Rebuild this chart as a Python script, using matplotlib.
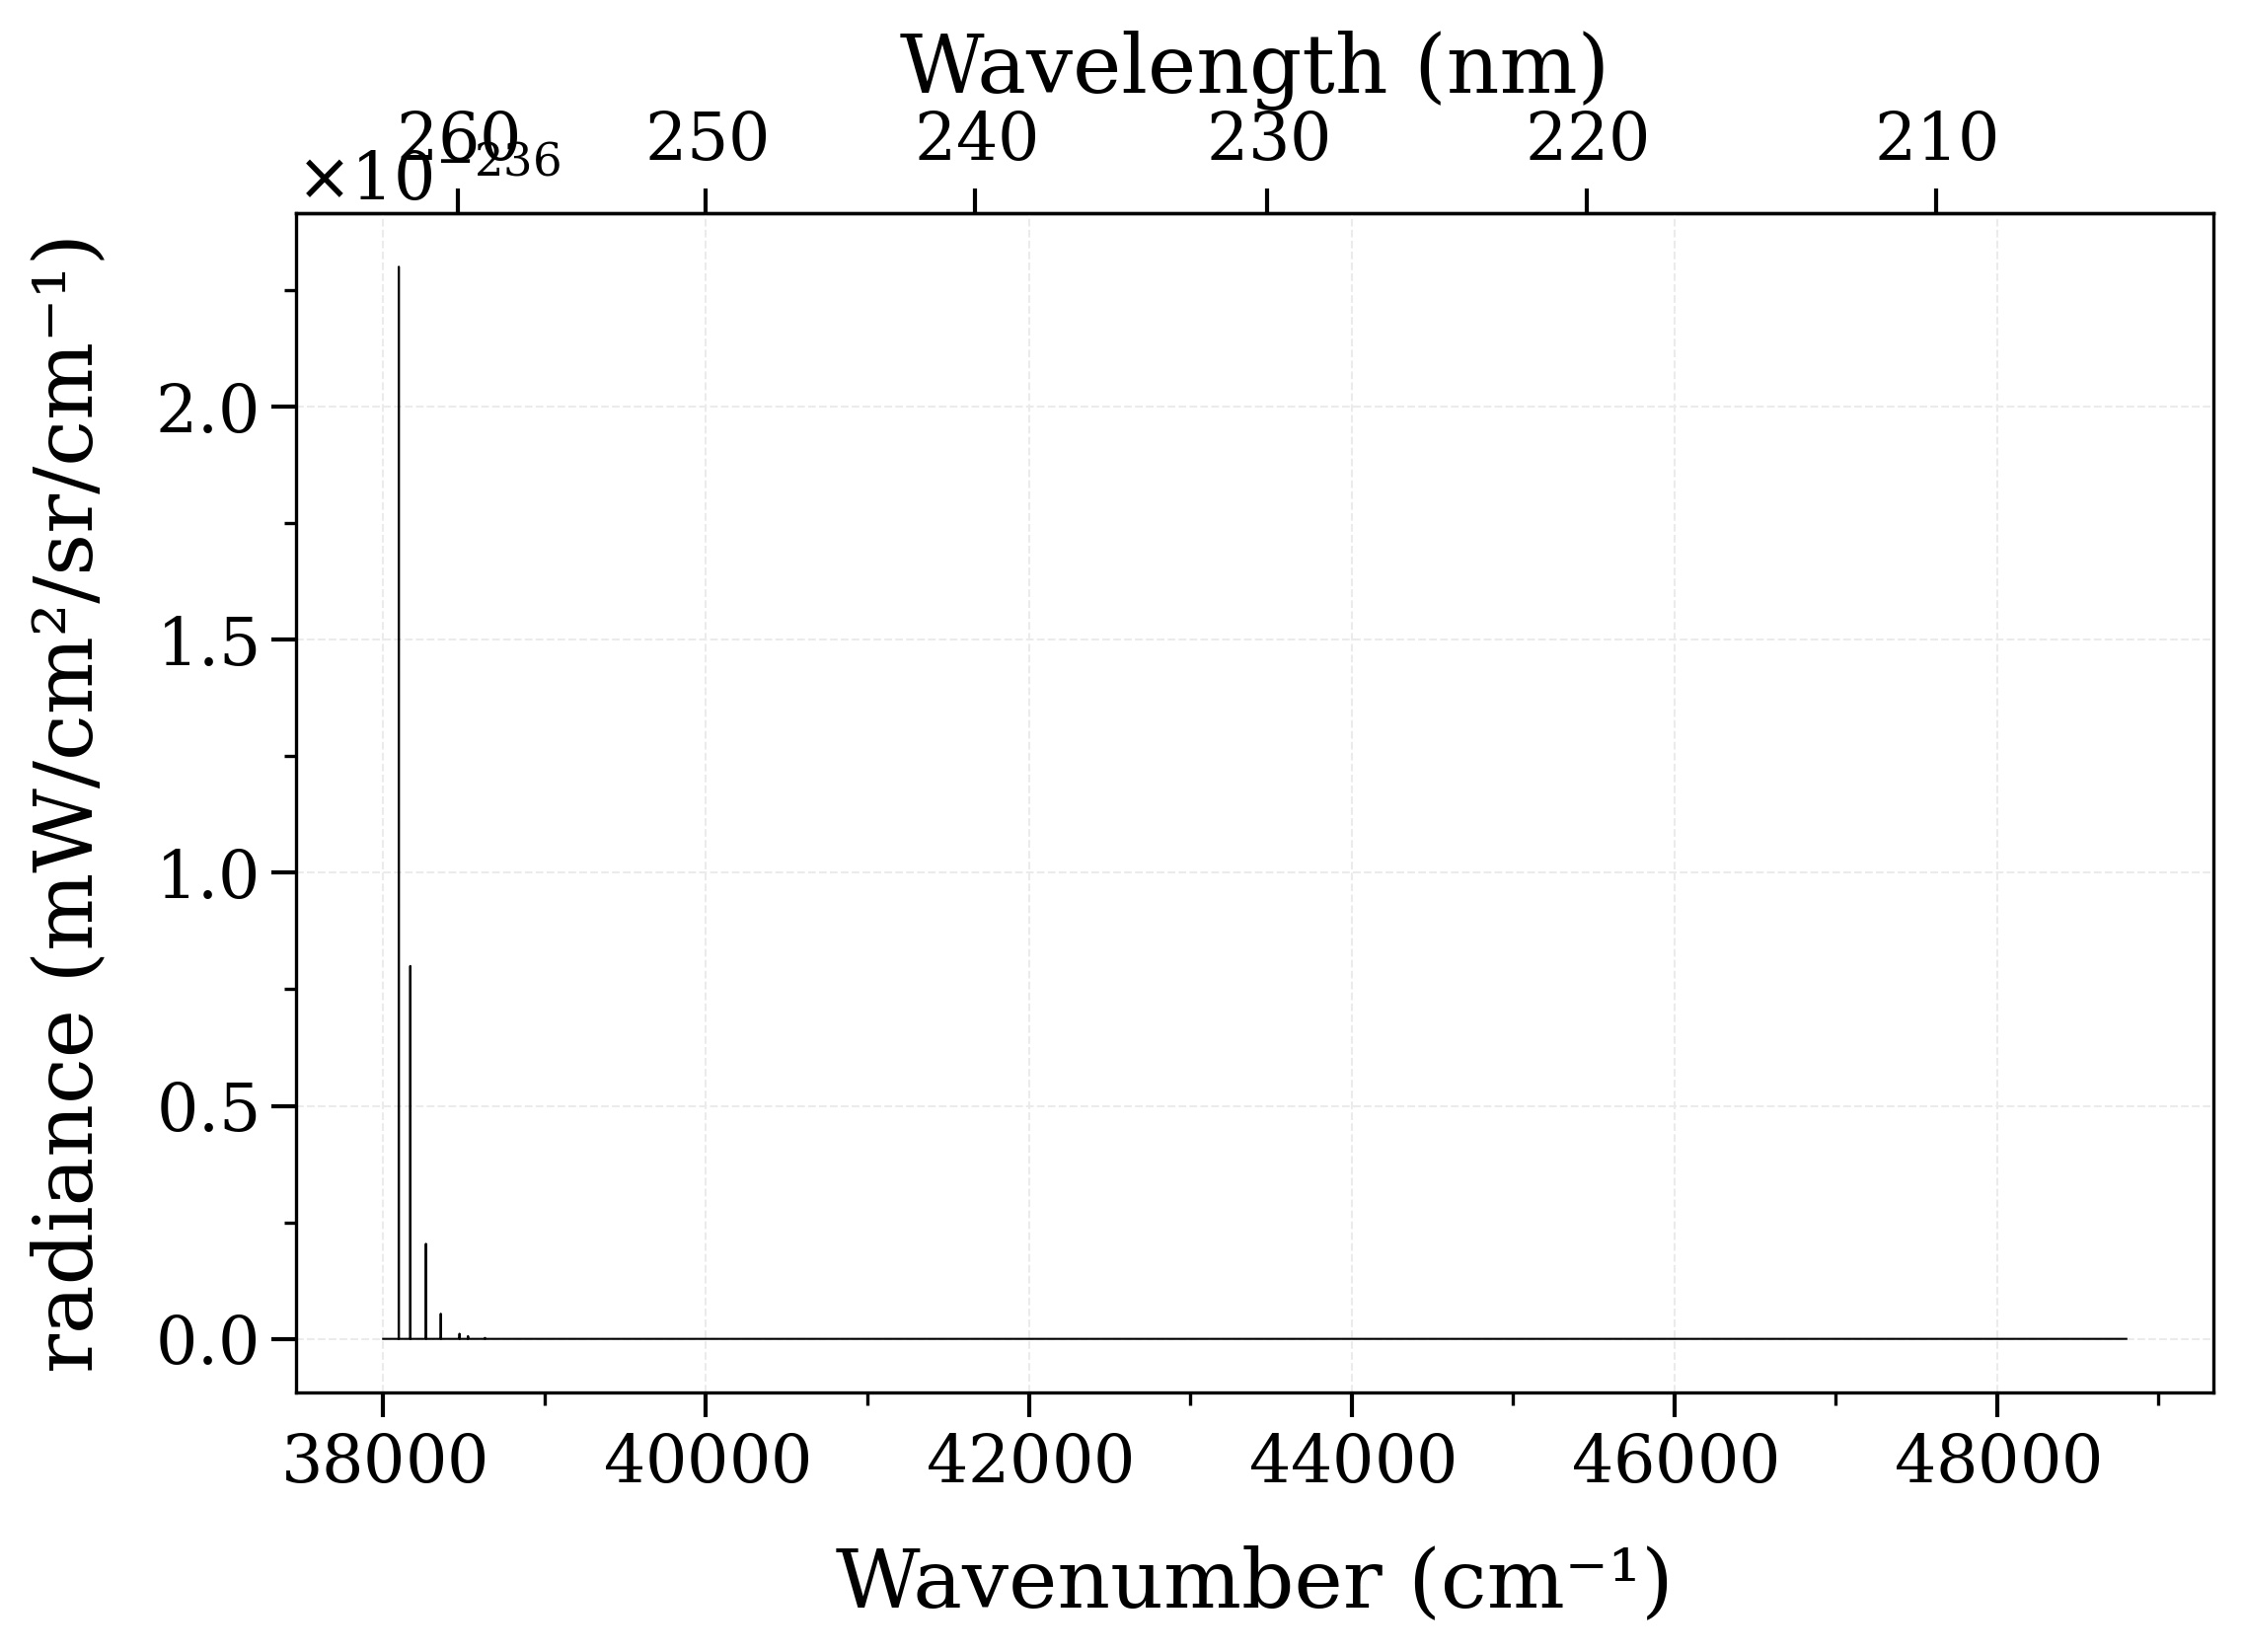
import numpy as np
import matplotlib
matplotlib.use("Agg")
import matplotlib.pyplot as plt
from matplotlib.ticker import AutoMinorLocator

plt.rcParams["font.family"] = ["DejaVu Serif"]
plt.rcParams["axes.formatter.use_mathtext"] = True

# espectro: faixa em numero de onda e linhas (posicao cm-1, altura em 1e-236)
faixa = [38000, 48800]
pico_pos = [38097, 38168, 38265, 38357, 38473, 38526, 38631]
pico_alt = [2.30, 0.80, 0.204, 0.054, 0.011, 0.006, 0.002]
escala = 1e-236

# monta a linha do espectro a partir dos picos
x = [faixa[0]]
y = [0.0]
for p, h in zip(pico_pos, pico_alt):
    x += [p - 1, p, p + 1]
    y += [0.0, h * escala, 0.0]
x.append(faixa[1])
y.append(0.0)
x = np.array(x, dtype=float)
y = np.array(y)


def inv(v):
    v = np.asarray(v, dtype=float)
    with np.errstate(divide="ignore"):
        return 1e7 / v


fig = plt.figure(figsize=(7.58, 5.58), dpi=300)
ax = fig.add_axes([0.1319, 0.1571, 0.8545, 0.7139])
ax.plot(x, y, color="black", lw=0.5)

ax.set_xlabel("Wavenumber (cm⁻¹)", fontsize=20, labelpad=12)
ax.set_ylabel("radiance (mW/cm²/sr/cm⁻¹)", fontsize=20, labelpad=11)
ax.tick_params(axis="both", which="major", labelsize=16, length=6, width=1.0)
ax.tick_params(axis="both", which="minor", length=3, width=0.8)
ax.xaxis.set_minor_locator(AutoMinorLocator(2))
ax.yaxis.set_minor_locator(AutoMinorLocator(2))
ax.yaxis.get_offset_text().set_fontsize(16)
ax.grid(True, which="major", ls="--", lw=0.5, color="0.92")

sec = ax.secondary_xaxis("top", functions=(inv, inv))
sec.set_xlabel("Wavelength (nm)", fontsize=20)
sec.tick_params(axis="x", which="major", labelsize=16, length=6, width=1.0)
sec.minorticks_off()

fig.savefig("out.png", dpi=300)
